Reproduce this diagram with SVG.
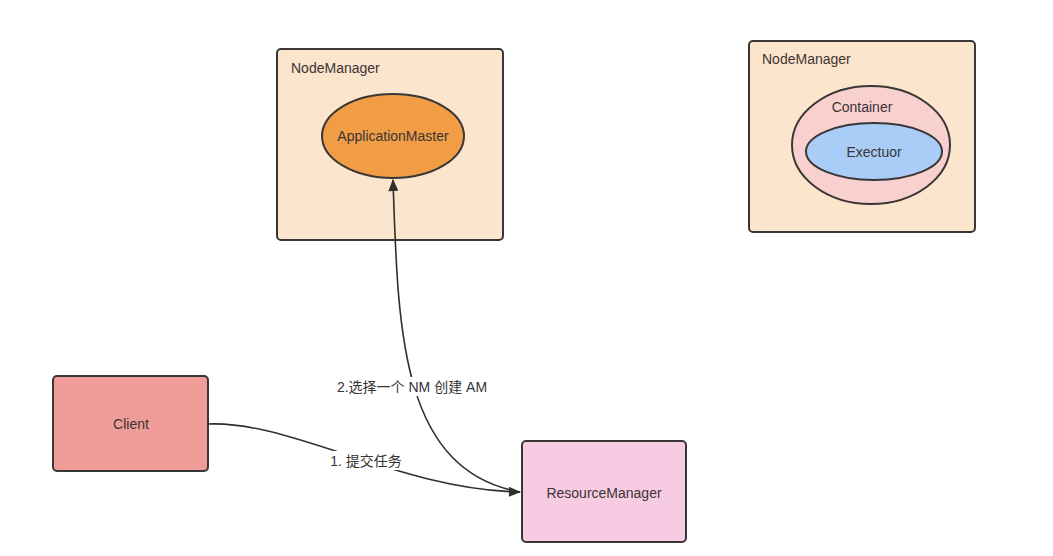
<svg xmlns="http://www.w3.org/2000/svg" width="1053" height="556" viewBox="0 0 1053 556">
<defs>
<style>
.box{stroke:#3a3636;stroke-width:2}
.t{font-family:"Liberation Sans","Noto Sans CJK SC",sans-serif;font-size:14px;fill:#3b3434}
.c{text-anchor:middle}
.conn{fill:none;stroke:#2f2f2f;stroke-width:1.6}
.lbl{font-family:"Liberation Sans","Noto Sans CJK SC",sans-serif;font-size:14px;fill:#333;text-anchor:middle}
</style>
<marker id="arr" viewBox="0 0 12 10" refX="11" refY="5" markerWidth="13" markerHeight="10" markerUnits="userSpaceOnUse" orient="auto">
<path d="M0,0 L12,5 L0,10 Z" fill="#2f2f2f"/>
</marker>
</defs>
<rect width="1053" height="556" fill="#ffffff"/>
<g id="nm1">
<rect class="box" x="277" y="49" width="226" height="191" rx="4" fill="#fbe5cc"/>
<text class="t" x="291" y="73">NodeManager</text>
</g>
<g id="am">
<ellipse class="box" cx="393" cy="136" rx="71" ry="42" fill="#f19d46"/>
<text class="t c" x="393" y="141">ApplicationMaster</text>
</g>
<g id="nm2">
<rect class="box" x="749" y="41" width="226" height="191" rx="4" fill="#fbe5cc"/>
<text class="t" x="762" y="64">NodeManager</text>
</g>
<g id="container">
<ellipse class="box" cx="871" cy="145" rx="79" ry="59" fill="#f7d0cf"/>
<text class="t c" x="862" y="112">Container</text>
</g>
<g id="exectuor">
<ellipse class="box" cx="874" cy="151.5" rx="68" ry="28.5" fill="#a9cdf7"/>
<text class="t c" x="874" y="157">Exectuor</text>
</g>
<g id="client">
<rect class="box" x="53" y="376" width="155" height="95" rx="4" fill="#f09c98"/>
<text class="t c" x="131" y="429">Client</text>
</g>
<g id="rm">
<rect class="box" x="522" y="441" width="164" height="101" rx="4" fill="#f7cce2"/>
<text class="t c" x="604" y="498">ResourceManager</text>
</g>
<g id="connectors">
<path class="conn" d="M208,424 C290,420 400,490 520,492" marker-end="url(#arr)"/>
<path class="conn" d="M520,492 C400,470 398,330 393,180" marker-end="url(#arr)"/>
<rect x="328" y="451" width="76" height="19" fill="#ffffff"/>
<text class="lbl" x="366" y="466">1. 提交任务</text>
<rect x="334" y="377" width="156" height="19" fill="#ffffff"/>
<text class="lbl" x="412" y="392">2.选择一个 NM 创建 AM</text>
</g>
</svg>
